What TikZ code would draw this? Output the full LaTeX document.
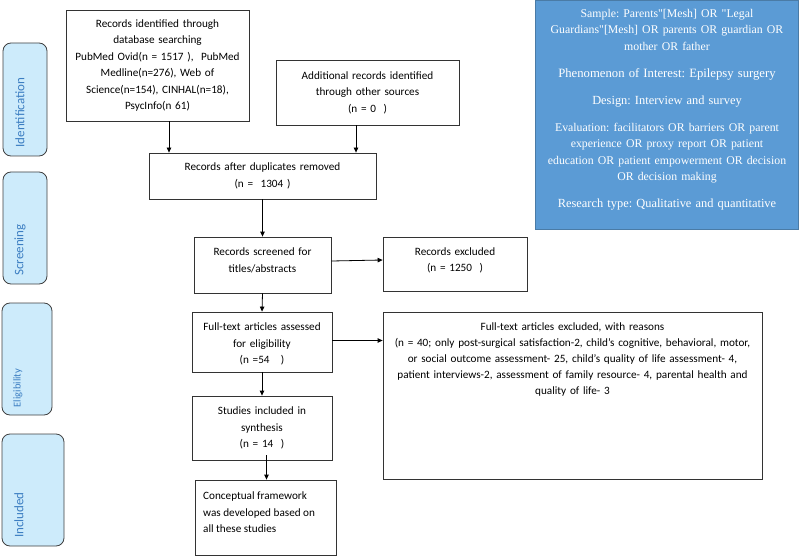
\documentclass[tikz,border=0pt]{standalone}
\usepackage{fontspec}
\setmainfont{Carlito}
\newfontfamily\tms{Liberation Serif}
\usetikzlibrary{arrows.meta,calc}
\definecolor{sidefill}{HTML}{CDEBFB}
\definecolor{sidetext}{HTML}{3C7EC2}
\definecolor{bluefill}{HTML}{5B9BD5}
\definecolor{blueline}{HTML}{4A7BA6}
\frenchspacing
\newcommand{\szA}{\fontsize{11.8}{16.5}\selectfont}
\newcommand{\szB}{\fontsize{12.4}{16.5}\selectfont}
\begin{document}
\begin{tikzpicture}[x=1pt,y=-1pt,
  box/.style={draw=black!80,line width=0.8pt,inner sep=0pt,align=center,font=\fontsize{11.2}{16.5}\selectfont},
  txt/.style={inner sep=0pt,align=center,font=\fontsize{11.2}{16.5}\selectfont},
  side/.style={draw=black!75,line width=0.8pt,fill=sidefill,rounded corners=8pt,inner sep=0pt},
  sidelbl/.style={text=sidetext,rotate=90,font=\fontsize{13}{14}\selectfont,inner sep=0pt},
  arr/.style={-{Triangle[length=5pt,width=4.5pt]},line width=0.8pt,black}]
\useasboundingbox (0,0) rectangle (800,556);
% side labels
\node[side,minimum width=44pt,minimum height=113pt] (sI) at (25,99.5) {};
\node[side,minimum width=44pt,minimum height=112pt] (sS) at (25,228) {};
\node[side,minimum width=50pt,minimum height=112pt] (sE) at (27,359) {};
\node[side,minimum width=62pt,minimum height=112pt] (sN) at (33,490) {};
\node[sidelbl] (tI) at (20,112.5) {Identification};
\node[sidelbl] (tS) at (20,250) {Screening};
\node[sidelbl,font=\fontsize{10.5}{12}\selectfont] (tE) at (18,388) {Eligibility};
\node[sidelbl] (tN) at (19,515) {Included};
% flow boxes
\node[box,minimum width=183pt,minimum height=111pt,text width=180pt] (id) at (157.5,65.5)
  {Records identified through\\database searching\\PubMed Ovid(n = 1517 ), \ PubMed\\Medline(n=276), Web of\\Science(n=154), CINHAL(n=18),\\PsycInfo(n 61)};
\node[box,minimum width=183pt,minimum height=65pt,text width=180pt] (add) at (367.5,92.5)
  {Additional records identified\\through other sources\\(n = 0 \ )};
\node[box,minimum width=227pt,minimum height=46pt,text width=220pt] (dup) at (262.5,176)
  {Records after duplicates removed\\(n = \ 1304 )};
\node[box,minimum width=137pt,minimum height=56pt] (scr) at (262.5,265) {};
\node[txt,text width=134pt] (scrt) at (262.5,260.5) {Records screened for\\titles/abstracts};
\node[box,minimum width=144pt,minimum height=54pt] (exc) at (455,264) {};
\node[txt,text width=140pt] (exct) at (455,260.5) {Records excluded\\(n = 1250 \ )};
\node[box,minimum width=140pt,minimum height=60pt] (ft) at (262,342) {};
\node[txt,text width=138pt] (ftt) at (262,344) {Full-text articles assessed\\for eligibility\\(n =54 \ \ )};
\node[box,minimum width=140pt,minimum height=64pt,text width=138pt] (st) at (262,428)
  {Studies included in\\synthesis\\(n = 14 \ )};
\node[box,minimum width=141pt,minimum height=75pt] (cf) at (265.5,517.5) {};
\node[txt,anchor=west,align=left] (cft) at (203,512.5)
  {Conceptual framework\\was developed based on\\all these studies};
\node[box,minimum width=379pt,minimum height=167pt] (ftx) at (572.5,395.5) {};
\node[txt,text width=378pt,font=\fontsize{11.2}{16}\selectfont] (ftxt) at (572.5,359.5)
  {Full-text articles excluded, with reasons\\
   (n = 40; only post-surgical satisfaction-2, child’s cognitive, behavioral, motor,\\
   or social outcome assessment- 25, child’s quality of life assessment- 4,\\
   patient interviews-2, assessment of family resource- 4, parental health and\\
   quality of life- 3};
% blue box
\node[draw=blueline,line width=0.8pt,fill=bluefill,minimum width=263pt,minimum height=229pt,inner sep=0pt] (pico) at (666.5,114.5) {};
\node[inner sep=0pt,align=center,text width=260pt,text=white,font=\tms\szB] (picot) at (667,109.5)
  {{\szA Sample: Parents"[Mesh] OR "Legal\\Guardians"[Mesh] OR parents OR guardian OR\\mother OR father}\\[10.5pt]
   {\fontsize{12.7}{16.5}\selectfont Phenomenon of Interest: Epilepsy surgery}\\[10.5pt]
   Design: Interview and survey\\[10.5pt]
   {\szA Evaluation: facilitators OR barriers OR parent\\experience OR proxy report OR patient\\education OR patient empowerment OR decision\\OR decision making}\\[10.5pt]
   Research type: Qualitative and quantitative};
% connectors
\coordinate (a1) at ($(id.south)+(11.5,0)$);
\draw[arr] (a1) -- (a1 |- dup.north);
\coordinate (a2) at ($(add.south)+(-11.5,0)$);
\draw[arr] (a2) -- (a2 |- dup.north);
\draw[arr] (dup.south) -- (scr.north);
\draw[arr] (scr.east |- 0,261) -- (exc.west |- 0,260);
\draw[arr] (scr.south) -- (ft.north);
\draw[arr] (ft.east |- 0,340.5) -- (ftx.west |- 0,340.5);
\draw[arr] (ft.south) -- (st.north);
\coordinate (a3) at ($(st.south)+(4.5,-5)$);
\draw[arr] (a3) -- (a3 |- cf.north);
\end{tikzpicture}
\end{document}
